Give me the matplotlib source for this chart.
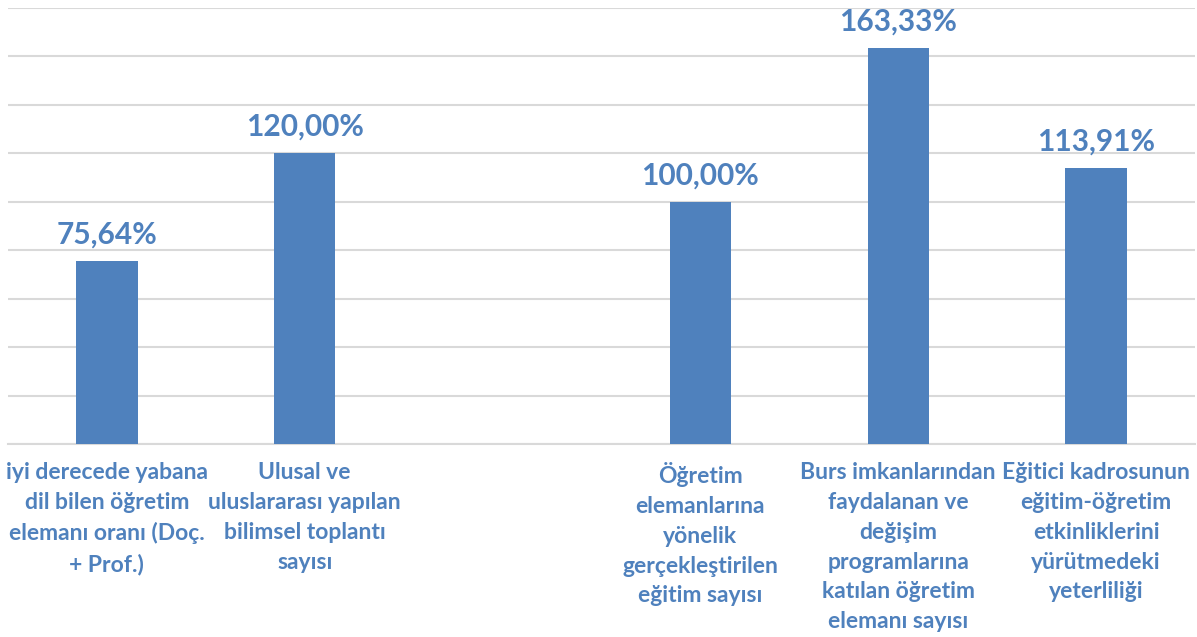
import matplotlib
matplotlib.use("Agg")
import matplotlib.pyplot as plt

categories = [
    "iyi derecede yabana\ndil bilen öğretim\nelemanı oranı (Doç.\n+ Prof.)",
    "Ulusal ve\nuluslararası yapılan\nbilimsel toplantı\nsayısı",
    "",
    "Öğretim\nelemanlarına\nyönelik\ngerçekleştirilen\neğitim sayısı",
    "Burs imkanlarından\nfaydalanan ve\ndeğişim\nprogramlarına\nkatılan öğretim\nelemanı sayısı",
    "Eğitici kadrosunun\neğitim-öğretim\netkinliklerini\nyürütmedeki\nyeterliliği",
]
values = [75.64, 120.00, None, 100.00, 163.33, 113.91]
value_labels = ["75,64%", "120,00%", "", "100,00%", "163,33%", "113,91%"]

BLUE = "#4F81BD"
GRID = "#D9D9D9"

fig = plt.figure(figsize=(11.97, 6.37), dpi=100)
ax = fig.add_axes([8 / 1197, 193 / 637, 1187 / 1197, 436 / 637])

xs = [i for i, v in enumerate(values) if v is not None]
hs = [v for v in values if v is not None]
labs = [value_labels[i] for i in xs]
bars = ax.bar(xs, hs, width=0.31, color=BLUE, zorder=3)

for bar, lab in zip(bars, labs):
    ax.annotate(lab, xy=(bar.get_x() + bar.get_width() / 2, bar.get_height()),
                xytext=(0, 9), textcoords="offset points",
                ha="center", va="bottom", fontsize=21.5, fontweight="bold",
                color=BLUE, family="Lato")

ax.set_xlim(-0.5, 5.5)
ax.set_ylim(0, 180)
ax.set_yticks(range(0, 181, 20))
ax.yaxis.grid(True, color=GRID, linewidth=1.5, zorder=0)
ax.tick_params(axis="y", left=False, labelleft=False)
ax.tick_params(axis="x", length=0, pad=13)
ax.set_xticks(range(len(categories)))
ax.set_xticklabels(categories, fontsize=16.5, fontweight="bold", color=BLUE,
                   family="Lato", linespacing=1.52, va="top")
for side in ["top", "left", "right"]:
    ax.spines[side].set_visible(False)
ax.spines["bottom"].set_color(GRID)
ax.spines["bottom"].set_linewidth(1.5)

fig.savefig("out.png", dpi=100)
